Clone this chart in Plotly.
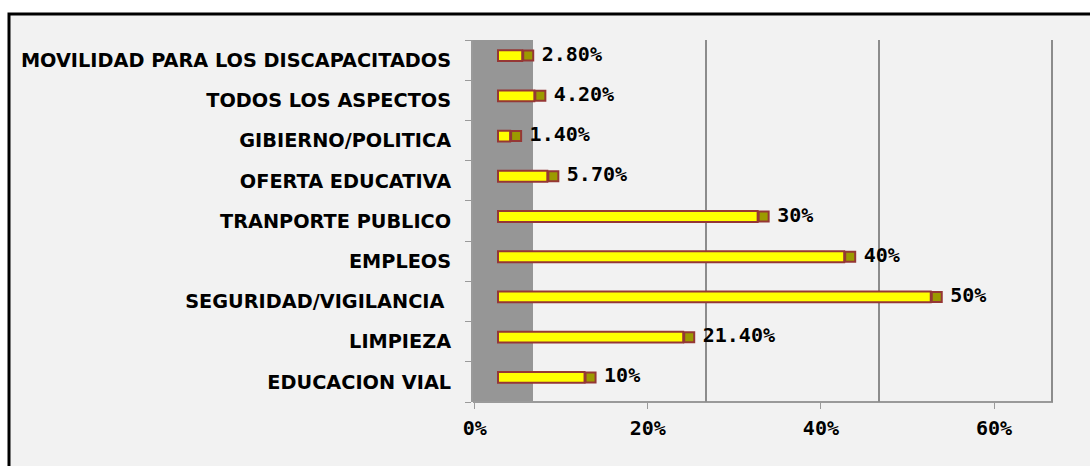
import plotly.graph_objects as go

categories = ["EDUCACION VIAL", "LIMPIEZA", "SEGURIDAD/VIGILANCIA\u00a0", "EMPLEOS",
              "TRANPORTE PUBLICO", "OFERTA EDUCATIVA", "GIBIERNO/POLITICA",
              "TODOS LOS ASPECTOS", "MOVILIDAD PARA LOS DISCAPACITADOS"]
values = [10, 21.4, 50, 40, 30, 5.7, 1.4, 4.2, 2.8]
value_labels = ["10%", "21.40%", "50%", "40%", "30%", "5.70%", "1.40%", "4.20%", "2.80%"]
tick_vals = [0, 20, 40, 60]
tick_text = ["0%", "20%", "40%", "60%"]

W, H = 1090, 466
L, R, T, B = 473, 34, 40, 64
PW = W - L - R          # plot width px
PH = H - T - B          # plot height px
PX_PER_PCT = 8.655

# front floor axis: 0% at x=474.7
front_range = [(473 - 474.7) / PX_PER_PCT, (473 + PW - 474.7) / PX_PER_PCT]
# bars at mid depth: 0% at x=498
bar_range = [(473 - 498) / PX_PER_PCT, (473 + PW - 498) / PX_PER_PCT]
# back wall: 0% at x=533
wall_range = [(473 - 533) / PX_PER_PCT, (473 + PW - 533) / PX_PER_PCT]

n = len(categories)
row_px = PH / n
shift = 4.5 / row_px
cap_half = 6 / PX_PER_PCT

label_font = dict(family="DejaVu Sans Mono", size=20, color="black", weight="bold")

fig = go.Figure()

fig.add_trace(go.Bar(
    x=values, y=categories, orientation="h",
    xaxis="x2", yaxis="y2",
    width=0.27,
    marker=dict(color="#ffff00", line=dict(color="#953735", width=2)),
    hoverinfo="skip", showlegend=False,
))
fig.add_trace(go.Scatter(
    x=[v + cap_half for v in values], y=categories,
    xaxis="x2", yaxis="y2",
    mode="markers",
    marker=dict(symbol="square", size=10, color="#9c9a00",
                line=dict(color="#953735", width=2)),
    hoverinfo="skip", showlegend=False, cliponaxis=False,
))
fig.add_trace(go.Scatter(
    x=[v + cap_half for v in values], y=categories,
    xaxis="x2", yaxis="y2",
    mode="markers+text",
    marker=dict(symbol="square", size=20, color="rgba(0,0,0,0)"),
    text=value_labels, textposition="middle right",
    textfont=label_font,
    hoverinfo="skip", showlegend=False, cliponaxis=False,
))
# invisible traces to register the front and back-wall axes
fig.add_trace(go.Scatter(x=[None], y=[None], xaxis="x", yaxis="y",
                         showlegend=False, hoverinfo="skip"))
fig.add_trace(go.Scatter(x=[None], y=[None], xaxis="x3", yaxis="y",
                         showlegend=False, hoverinfo="skip"))

fig.update_layout(
    width=W, height=H,
    margin=dict(l=L, r=R, t=T, b=B, pad=0),
    paper_bgcolor="white",
    plot_bgcolor="rgba(0,0,0,0)",
    showlegend=False,
    xaxis=dict(range=front_range, tickvals=tick_vals, ticktext=tick_text,
               showgrid=False, zeroline=False, showline=False,
               ticks="outside", ticklen=6, tickcolor="#9a9a9a", tickwidth=1,
               tickfont=label_font, ticklabelstandoff=2, fixedrange=True),
    xaxis2=dict(range=bar_range, overlaying="x", visible=False, fixedrange=True),
    xaxis3=dict(range=wall_range, overlaying="x", showgrid=True,
                gridcolor="#8c8c8c", gridwidth=2, tickvals=[20, 40, 60],
                showticklabels=False, ticks="", zeroline=False, showline=False,
                fixedrange=True),
    yaxis=dict(type="category", categoryorder="array", categoryarray=categories,
               range=[-0.5, n - 0.5], showgrid=False, zeroline=False,
               showline=True, linecolor="#9a9a9a", linewidth=2,
               ticks="outside", tickson="boundaries", ticklen=6,
               tickcolor="#9a9a9a", tickwidth=1,
               tickfont=dict(family="DejaVu Sans", size=19.3, color="black", weight="bold"),
               ticklabelstandoff=16, fixedrange=True),
    yaxis2=dict(type="category", categoryorder="array", categoryarray=categories,
                range=[-0.5 - shift, n - 0.5 - shift], overlaying="y",
                visible=False, fixedrange=True),
    shapes=[
        dict(type="rect", xref="paper", yref="paper",
             x0=(9 - L) / PW, x1=(W + 10 - L) / PW,
             y0=(T + PH - (H + 10)) / PH, y1=(T + PH - 14) / PH,
             fillcolor="#f2f2f2", line=dict(color="black", width=3), layer="below"),
        dict(type="rect", xref="x3", yref="paper",
             x0=wall_range[0], x1=0, y0=0, y1=1,
             fillcolor="#969696", line=dict(width=0), layer="below"),
        # floor edge from the front axis start to the back wall's far end
        dict(type="line", xref="x", yref="paper",
             x0=front_range[0], x1=(1053 - 474.7) / PX_PER_PCT, y0=0, y1=0,
             line=dict(color="#9a9a9a", width=2), layer="below"),
    ],
)

fig.write_html("out.html", config={"displayModeBar": False},
               post_script="document.body.style.margin='0';document.body.style.overflow='hidden';")
